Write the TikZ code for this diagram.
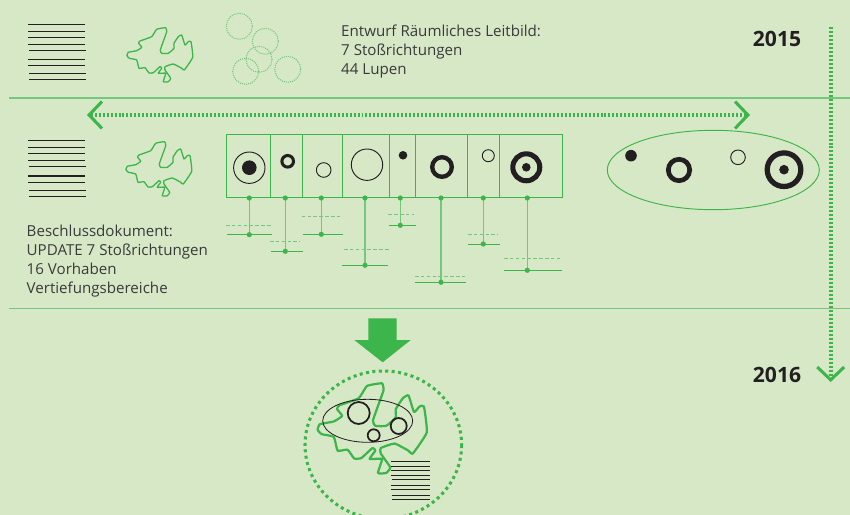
\documentclass[tikz,border=0pt]{standalone}
\usepackage{fontspec}
\setmainfont{Open Sans}
\usetikzlibrary{arrows.meta}
\definecolor{bggreen}{HTML}{D7E8C7}
\definecolor{strokegreen}{HTML}{3CB54A}
\definecolor{lightgreen}{HTML}{74C77E}
\definecolor{textgray}{HTML}{3A3A3A}
\definecolor{inkblack}{HTML}{231F20}
\tikzset{
  docline/.style={inkblack, line width=0.9pt},
  dotline/.style={strokegreen, line width=3.2pt, dash pattern=on 1.7pt off 1.7pt},
  barb/.tip={Straight Barb[length=11pt, width=23pt, line width=2.6pt]},
  seprule/.style={lightgreen, line width=1.1pt},
  cell/.style={strokegreen, line width=0.8pt},
  stem/.style={lightgreen, line width=0.9pt},
  level/.style={strokegreen, line width=0.8pt},
  oldlevel/.style={lightgreen, line width=0.8pt, dash pattern=on 3pt off 2pt},
  ring/.style={inkblack},
  spot/.style={fill=inkblack, draw=none},
  lupe/.style={lightgreen, line width=0.9pt, dash pattern=on 0.9pt off 0.9pt},
  label/.style={textgray, font=\fontsize{12.9pt}{16.3pt}\selectfont, align=left, anchor=north west, inner sep=0pt},
  year/.style={inkblack, font=\fontsize{18pt}{20pt}\selectfont\bfseries, inner sep=0pt},
  regionblob/.pic={
    \draw[strokegreen, line join=round] plot[smooth cycle, tension=0.25] coordinates {
      (38.7,0) (29.7,1.6) (24.7,9) (13,13.3) (11.7,15.6) (14.7,19.6) (9.7,23) (1.3,24.6)
      (0,28) (2.3,30.6) (9.7,32.3) (12,40.6) (18,40) (22,45.3) (26.3,45) (33,39)
      (34.7,40.6) (31.3,45.6) (38.7,45.6) (36.3,54) (41.3,54) (43.7,50.6) (38,42.3) (38,39)
      (46.3,36.3) (54.7,40.6) (57.3,42.3) (65.7,29.6) (64,14) (61.3,14) (58,17.3) (54.7,7.3)
      (51.3,9) (47,15.6) (47,20.6) (41.3,25.6) (34.7,25.6) (33.3,22.3) (38,9) (39.7,4)};
  },
  doclines/.pic={
    \foreach \ly/\lx in {0/0,7/0,13/0,20/0,26/1,35/0,41/0,49/1,55/1}
      \draw[docline] (\lx,\ly) -- (\lx+57,\ly);
  }
}

\begin{document}
\begin{tikzpicture}[x=0.03cm,y=-0.03cm]
  \fill[bggreen] (0,0) rectangle (850,515);
  \useasboundingbox (0,0) rectangle (850,515);

  % first row
  \pic (docsTop) at (28,24.3) {doclines};
  \pic[line width=1.1pt] (blobTop) at (127,27.7) {regionblob};
  \foreach \lx/\ly in {239.3/26.3,265.3/41.3,259/59.3,245.7/71.3,287.7/69.3}
    \draw[lupe] (\lx,\ly) circle [radius=13];
  \node[label] (textTop) at (341,24.5) {Entwurf Räumliches Leitbild:\\7 Stoßrichtungen\\44 Lupen};
  \node[year] (yearTop) at (777,39) {2015};

  \coordinate (ruleOneL) at (9,98);
  \coordinate (ruleOneR) at (850,98);
  \draw[seprule] (ruleOneL) -- (ruleOneR);
  \coordinate (ruleTwoL) at (9,308.5);
  \coordinate (ruleTwoR) at (850,308.5);
  \draw[seprule] (ruleTwoL) -- (ruleTwoR);

  \coordinate (spanL) at (87,115);
  \coordinate (spanR) at (750,115);
  \draw[dotline, {barb}-{barb}] (spanL) -- (spanR);
  \coordinate (timeTop) at (830.7,27);
  \coordinate (timeEnd) at (830.7,382);
  \draw[dotline, -{barb}] (timeTop) -- (timeEnd);

  % second row
  \pic[yscale=1.02] (docsMid) at (28,140.3) {doclines};
  \pic[line width=1.1pt] (blobMid) at (126,141.7) {regionblob};
  \node[label] (textMid) at (26.5,224.5) {Beschlussdokument:\\UPDATE 7 Stoßrichtungen\\16 Vorhaben\\Vertiefungsbereiche};

  \draw[cell] (226.3,134.7) rectangle (562.3,197.7);
  \foreach \lx in {270.3,302.3,342.3,389.3,415.3,467.3,499.3}
    \draw[cell] (\lx,134.7) -- (\lx,197.7);

  \foreach \lname/\lx/\ly/\la/\lb/\dy/\da/\db in {
    a/249.3/234.7/227/272/225.3/226/271,
    b/285.3/251.3/271/302.7/241.7/270/300,
    c/321.3/234.3/303/342.7/216.3/301.7/341.7,
    d/365/265.3/342/388/249.3/344/390,
    e/400.3/225.3/389/416/214.3/388.3/414,
    f/441/282.3/415/466/276.7/415/466,
    g/483.3/244/468/500/234.7/468/498.3,
    h/527.3/270.3/504/562/258.3/504/562}{
    \coordinate (top\lname) at (\lx,198);
    \coordinate (end\lname) at (\lx,\ly);
    \draw[oldlevel] (\da,\dy) -- (\db,\dy);
    \draw[level] (\la,\ly) -- (\lb,\ly);
    \draw[stem] (top\lname) -- (end\lname);
    \fill[strokegreen] (top\lname) circle [radius=2.6];
    \fill[strokegreen] (end\lname) circle [radius=2.6];
  }

  % rings
  \foreach \lx/\ly/\lr/\lw in {
    249.3/167.7/15.7/0.8, 287.7/161.3/5.8/2.6, 323.7/170/7.3/0.8, 367/164.7/15.7/0.8,
    442/167/9.8/3.7, 488.3/155.7/6/0.8, 526.3/167.3/13.5/4.3,
    679/170/10.7/4, 738/157.3/7.3/0.8, 784/169.7/16.8/4.5}
    \draw[ring, line width=\lw pt] (\lx,\ly) circle [radius=\lr];
  \foreach \lx/\ly/\lr in {
    249.3/167.7/7.3, 403/155.3/4.3, 526.3/167.3/4.3, 631/155.7/5.8, 784/169.7/4.8}
    \fill[spot] (\lx,\ly) circle [radius=\lr];
  \draw[cell] (713.3,170) ellipse [x radius=106, y radius=39.7];

  % third row
  \fill[strokegreen] (368.3,318.3) -- (396.7,318.3) -- (396.7,340) -- (410.7,340)
    -- (382.7,362.3) -- (354.3,340) -- (368.3,340) -- cycle;
  \node[year] (yearEnd) at (777,375) {2016};
  \draw[strokegreen, line width=2.6pt, dash pattern=on 2.6pt off 2.9pt] (383.3,445) ellipse [x radius=78.3, y radius=74];
  \pic[scale=1.66, line width=1.9pt] (blobEnd) at (317.7,383.3) {regionblob};
  \pic[scale=0.68, yscale=1.02] (docsEnd) at (391,461.3) {doclines};
  \draw[ring, line width=0.7pt] (367.7,420.8) ellipse [x radius=45, y radius=21.5];
  \foreach \lx/\ly/\lr in {358.7/413/11, 373.7/435.3/6, 398.7/426/8}
    \draw[ring, line width=1.5pt] (\lx,\ly) circle [radius=\lr];
\end{tikzpicture}
\end{document}
